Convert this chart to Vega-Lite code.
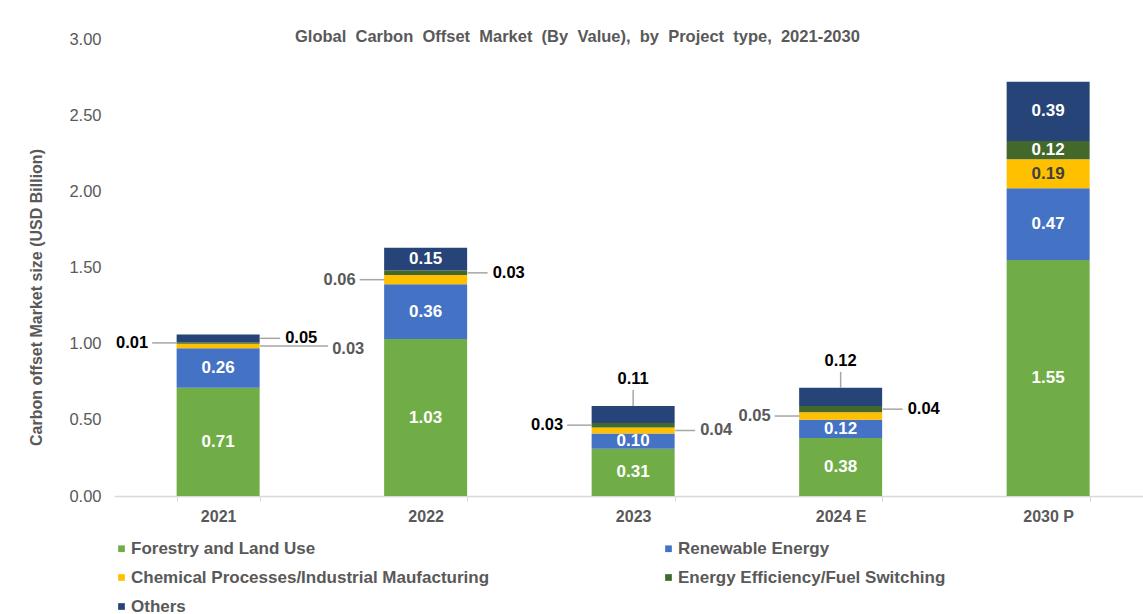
{
  "$schema": "https://vega.github.io/schema/vega-lite/v6.json",
  "autosize": {"type": "none"},
  "padding": {"left": 114, "top": 39, "right": 0, "bottom": 118},
  "width": 1029,
  "height": 457,
  "background": "white",
  "config": {"font": "Liberation Sans", "view": {"stroke": null}},
  "title": {
    "text": "Global\u00a0 Carbon\u00a0 Offset\u00a0 Market\u00a0 (By\u00a0 Value),\u00a0 by\u00a0 Project\u00a0 type,\u00a0 2021-2030",
    "fontSize": 16.5, "fontWeight": "bold", "color": "#595959",
    "anchor": "start", "frame": "group", "dx": 181, "offset": -14
  },
  "data": {"values": [
    {"year": "2021", "category": "Forestry and Land Use", "value": 0.71},
    {"year": "2021", "category": "Renewable Energy", "value": 0.26},
    {"year": "2021", "category": "Chemical Processes/Industrial Maufacturing", "value": 0.03},
    {"year": "2021", "category": "Energy Efficiency/Fuel Switching", "value": 0.01},
    {"year": "2021", "category": "Others", "value": 0.05},
    {"year": "2022", "category": "Forestry and Land Use", "value": 1.03},
    {"year": "2022", "category": "Renewable Energy", "value": 0.36},
    {"year": "2022", "category": "Chemical Processes/Industrial Maufacturing", "value": 0.06},
    {"year": "2022", "category": "Energy Efficiency/Fuel Switching", "value": 0.03},
    {"year": "2022", "category": "Others", "value": 0.15},
    {"year": "2023", "category": "Forestry and Land Use", "value": 0.31},
    {"year": "2023", "category": "Renewable Energy", "value": 0.10},
    {"year": "2023", "category": "Chemical Processes/Industrial Maufacturing", "value": 0.04},
    {"year": "2023", "category": "Energy Efficiency/Fuel Switching", "value": 0.03},
    {"year": "2023", "category": "Others", "value": 0.11},
    {"year": "2024 E", "category": "Forestry and Land Use", "value": 0.38},
    {"year": "2024 E", "category": "Renewable Energy", "value": 0.12},
    {"year": "2024 E", "category": "Chemical Processes/Industrial Maufacturing", "value": 0.05},
    {"year": "2024 E", "category": "Energy Efficiency/Fuel Switching", "value": 0.04},
    {"year": "2024 E", "category": "Others", "value": 0.12},
    {"year": "2030 P", "category": "Forestry and Land Use", "value": 1.55},
    {"year": "2030 P", "category": "Renewable Energy", "value": 0.47},
    {"year": "2030 P", "category": "Chemical Processes/Industrial Maufacturing", "value": 0.19},
    {"year": "2030 P", "category": "Energy Efficiency/Fuel Switching", "value": 0.12},
    {"year": "2030 P", "category": "Others", "value": 0.39}
  ]},
  "transform": [
    {"calculate": "indexof(['Forestry and Land Use','Renewable Energy','Chemical Processes/Industrial Maufacturing','Energy Efficiency/Fuel Switching','Others'], datum.category)", "as": "k"},
    {"stack": "value", "groupby": ["year"], "sort": [{"field": "k", "order": "ascending"}], "as": ["y0", "y1"]},
    {"calculate": "(datum.y0 + datum.y1) / 2", "as": "ymid"}
  ],
  "encoding": {
    "x": {
      "field": "year", "type": "nominal",
      "sort": ["2021", "2022", "2023", "2024 E", "2030 P"],
      "scale": {"paddingInner": 0.6, "paddingOuter": 0.2795, "align": 0.54},
      "axis": {
        "title": null, "labelAngle": 0, "labelFontSize": 16, "labelFontWeight": "bold",
        "labelColor": "#595959", "labelPadding": 7, "tickBand": "extent",
        "domainColor": "#D9D9D9", "tickColor": "#D9D9D9", "tickSize": 5, "domainWidth": 1.5
      }
    }
  },
  "layer": [
    {
      "mark": {"type": "bar"},
      "encoding": {
        "y": {
          "field": "y0", "type": "quantitative",
          "scale": {"domain": [0, 3]},
          "axis": {
            "title": "Carbon offset Market size (USD Billion)",
            "titleFontSize": 16, "titleFontWeight": "bold", "titleColor": "#595959", "titlePadding": 24,
            "titleY": 258,
            "values": [0, 0.5, 1, 1.5, 2, 2.5, 3], "format": ".2f",
            "labelFontSize": 16.5, "labelColor": "#595959", "labelPadding": 13,
            "grid": false, "domain": false, "ticks": false
          }
        },
        "y2": {"field": "y1"},
        "color": {
          "field": "category", "type": "nominal",
          "scale": {
            "domain": ["Forestry and Land Use", "Renewable Energy", "Chemical Processes/Industrial Maufacturing", "Energy Efficiency/Fuel Switching", "Others"],
            "range": ["#70AD47", "#4472C4", "#FFC000", "#43682B", "#264478"]
          },
          "legend": {
            "orient": "none", "legendX": -1, "legendY": 501, "direction": "horizontal",
            "columns": 2, "columnPadding": 170, "rowPadding": 11, "title": null,
            "labelFontSize": 17, "labelFontWeight": "bold", "labelColor": "#595959",
            "labelLimit": 600, "symbolType": "square", "symbolSize": 45, "labelOffset": 1,
            "symbolStrokeWidth": 0
          }
        }
      }
    },
    {
      "transform": [{"filter": "datum.value >= 0.1 && !(datum.category == 'Others' && (datum.year == '2023' || datum.year == '2024 E'))"}],
      "mark": {"type": "text", "fontSize": 17, "fontWeight": "bold", "baseline": "middle"},
      "encoding": {
        "y": {"field": "ymid", "type": "quantitative"},
        "text": {"field": "value", "type": "quantitative", "format": ".2f"},
        "color": {"condition": {"test": "datum.category == 'Chemical Processes/Industrial Maufacturing'", "value": "#404040"}, "value": "white"}
      }
    },
    {
      "transform": [{"filter": "(datum.year == '2021' && datum.category == 'Energy Efficiency/Fuel Switching') || (datum.year == '2022' && datum.category == 'Chemical Processes/Industrial Maufacturing') || (datum.year == '2023' && datum.category == 'Energy Efficiency/Fuel Switching') || (datum.year == '2024 E' && datum.category == 'Chemical Processes/Industrial Maufacturing')"}],
      "mark": {"type": "rule", "color": "#A6A6A6", "strokeWidth": 1.5, "xOffset": -41, "x2Offset": -66},
      "encoding": {
        "x2": {"field": "year"},
        "y": {"field": "ymid", "type": "quantitative"}
      }
    },
    {
      "transform": [{"filter": "(datum.year == '2021' && datum.category == 'Energy Efficiency/Fuel Switching') || (datum.year == '2022' && datum.category == 'Chemical Processes/Industrial Maufacturing') || (datum.year == '2023' && datum.category == 'Energy Efficiency/Fuel Switching') || (datum.year == '2024 E' && datum.category == 'Chemical Processes/Industrial Maufacturing')"}],
      "mark": {"type": "text", "fontSize": 16.5, "fontWeight": "bold", "baseline": "middle", "align": "right", "dx": -70},
      "encoding": {
        "y": {"field": "ymid", "type": "quantitative"},
        "text": {"field": "value", "type": "quantitative", "format": ".2f"},
        "color": {"condition": {"test": "datum.category == 'Chemical Processes/Industrial Maufacturing'", "value": "#595959"}, "value": "black"}
      }
    },
    {
      "transform": [{"filter": "(datum.year == '2021' && datum.category == 'Others') || (datum.year == '2022' && datum.category == 'Energy Efficiency/Fuel Switching') || (datum.year == '2023' && datum.category == 'Chemical Processes/Industrial Maufacturing') || (datum.year == '2024 E' && datum.category == 'Energy Efficiency/Fuel Switching')"}],
      "mark": {"type": "rule", "color": "#A6A6A6", "strokeWidth": 1.5, "xOffset": 42, "x2Offset": 62},
      "encoding": {
        "x2": {"field": "year"},
        "y": {"field": "ymid", "type": "quantitative"}
      }
    },
    {
      "transform": [{"filter": "(datum.year == '2021' && datum.category == 'Others') || (datum.year == '2022' && datum.category == 'Energy Efficiency/Fuel Switching') || (datum.year == '2023' && datum.category == 'Chemical Processes/Industrial Maufacturing') || (datum.year == '2024 E' && datum.category == 'Energy Efficiency/Fuel Switching')"}],
      "mark": {"type": "text", "fontSize": 16.5, "fontWeight": "bold", "baseline": "middle", "align": "left", "dx": 67},
      "encoding": {
        "y": {"field": "ymid", "type": "quantitative"},
        "text": {"field": "value", "type": "quantitative", "format": ".2f"},
        "color": {"condition": {"test": "datum.category == 'Chemical Processes/Industrial Maufacturing'", "value": "#595959"}, "value": "black"}
      }
    },
    {
      "transform": [{"filter": "datum.year == '2021' && datum.category == 'Chemical Processes/Industrial Maufacturing'"}],
      "mark": {"type": "rule", "color": "#A6A6A6", "strokeWidth": 1.5, "xOffset": 42, "x2Offset": 110},
      "encoding": {
        "x2": {"field": "year"},
        "y": {"field": "ymid", "type": "quantitative"}
      }
    },
    {
      "transform": [{"filter": "datum.year == '2021' && datum.category == 'Chemical Processes/Industrial Maufacturing'"}],
      "mark": {"type": "text", "fontSize": 16.5, "fontWeight": "bold", "baseline": "middle", "align": "left", "dx": 114, "dy": 3},
      "encoding": {
        "y": {"field": "ymid", "type": "quantitative"},
        "text": {"field": "value", "type": "quantitative", "format": ".2f"},
        "color": {"value": "#595959"}
      }
    },
    {
      "transform": [{"filter": "datum.category == 'Others' && (datum.year == '2023' || datum.year == '2024 E')"}],
      "mark": {"type": "rule", "color": "#A6A6A6", "strokeWidth": 1.5, "y2Offset": -16},
      "encoding": {
        "y": {"field": "y1", "type": "quantitative"},
        "y2": {"field": "y1"}
      }
    },
    {
      "transform": [{"filter": "datum.category == 'Others' && (datum.year == '2023' || datum.year == '2024 E')"}],
      "mark": {"type": "text", "fontSize": 16.5, "fontWeight": "bold", "baseline": "middle", "dy": -27},
      "encoding": {
        "y": {"field": "y1", "type": "quantitative"},
        "text": {"field": "value", "type": "quantitative", "format": ".2f"},
        "color": {"value": "black"}
      }
    }
  ]
}
